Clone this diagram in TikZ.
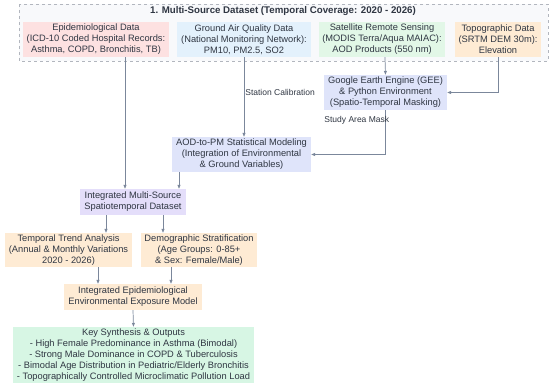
\documentclass[tikz,border=0pt]{standalone}
\usepackage{fontspec}
\setmainfont{Liberation Sans}
\usepackage{tikz}
\usetikzlibrary{positioning, arrows.meta, calc}
\definecolor{ink}{HTML}{2F3642}
\definecolor{edge}{HTML}{7B879B}
\definecolor{frame}{HTML}{B2B6BE}
\definecolor{framelight}{HTML}{F8F9FB}
\definecolor{epilight}{HTML}{FDE1E1}
\definecolor{airlight}{HTML}{E3F1FC}
\definecolor{satlight}{HTML}{E2F7E7}
\definecolor{topolight}{HTML}{FEEBD4}
\definecolor{proclight}{HTML}{DFE4FA}
\definecolor{mergelight}{HTML}{E4DEFA}
\definecolor{outlight}{HTML}{D7F6E4}
\tikzset{
  box/.style      = {rectangle, inner sep=1pt, align=center, text=ink,
                     font=\fontsize{9.3}{11}\selectfont},
  src/.style      = {box, minimum height=35pt},
  proc/.style     = {box, fill=proclight, minimum height=35pt},
  ana/.style      = {box, fill=topolight},
  lbl/.style      = {inner sep=1pt, text=ink, font=\fontsize{8.5}{10}\selectfont},
  ar/.style       = {-{Triangle[length=4pt,width=3pt]}, draw=edge, line width=0.7pt},
}
\begin{document}
\begin{tikzpicture}[x=1pt, y=-1pt]
  \useasboundingbox (0,0) rectangle (550,388);

  % source cluster
  \draw[frame, dashed, fill=framelight] (19,4) rectangle (548,61);
  \node[font=\bfseries\fontsize{9.7}{11}\selectfont, text=ink] (title) at (283,11)
       {1. Multi-Source Dataset (Temporal Coverage: 2020 - 2026)};

  \node[src, fill=epilight,  minimum width=146pt] (epi)    at (96,39.5)
       {Epidemiological Data\\(ICD-10 Coded Hospital Records:\\Asthma, COPD, Bronchitis, TB)};
  \node[src, fill=airlight,  minimum width=134pt] (ground) at (244,39.5)
       {Ground Air Quality Data\\(National Monitoring Network):\\PM10, PM2.5, SO2};
  \node[src, fill=satlight,  minimum width=126pt] (sat)    at (382,39.5)
       {Satellite Remote Sensing\\(MODIS Terra/Aqua MAIAC):\\AOD Products (550 nm)};
  \node[src, fill=topolight, minimum width=86pt]  (topo)   at (498,39.5)
       {Topographic Data\\(SRTM DEM 30m):\\Elevation};

  % processing
  \node[proc, minimum width=123pt] (gee) at (385.5,92.5)
       {Google Earth Engine (GEE)\\\& Python Environment\\(Spatio-Temporal Masking)};
  \node[proc, minimum width=139pt] (aod) at (241.5,154.5)
       {AOD-to-PM Statistical Modeling\\(Integration of Environmental\\\& Ground Variables)};
  \node[box, fill=mergelight, minimum width=106pt, minimum height=26pt] (integ) at (133,202)
       {Integrated Multi-Source\\Spatiotemporal Dataset};

  % analysis
  \node[ana, minimum width=127pt, minimum height=34pt] (trend) at (68.5,250)
       {Temporal Trend Analysis\\(Annual \& Monthly Variations\\2020 - 2026)};
  \node[ana, minimum width=116pt, minimum height=34pt] (demo) at (199,250)
       {Demographic Stratification\\(Age Groups: 0-85+\\\& Sex: Female/Male)};
  \node[ana, minimum width=138pt, minimum height=26pt] (expo) at (133,297)
       {Integrated Epidemiological\\Environmental Exposure Model};
  \node[box, fill=outlight, minimum width=241pt, minimum height=56pt] (out) at (133.5,355)
       {Key Synthesis \& Outputs\\- High Female Predominance in Asthma (Bimodal)\\- Strong Male Dominance in COPD \& Tuberculosis\\- Bimodal Age Distribution in Pediatric/Elderly Bronchitis\\- Topographically Controlled Microclimatic Pollution Load};

  % connectors
  \draw[ar] ([xshift=29pt]epi.south) -- ([xshift=-8pt]integ.north);
  \draw[ar] (ground.south) -- node[pos=0.44, anchor=west, lbl] {Station Calibration}
            ([xshift=2.5pt]aod.north);
  \draw[ar] ([xshift=3pt]sat.south) -- (gee.north);
  \draw[ar] (topo.south) |- (gee.east);
  \draw[ar] (gee.south) |- node[pos=0.11, anchor=east, xshift=5pt, lbl] {Study Area Mask}
            (aod.east);
  \draw[ar] ([xshift=-62.5pt]aod.south) -- ([xshift=46pt]integ.north);
  \draw[ar] ([xshift=-27pt]integ.south) -- ([xshift=37.5pt]trend.north);
  \draw[ar] ([xshift=30pt]integ.south) -- ([xshift=-36pt]demo.north);
  \draw[ar] ([xshift=29.5pt]trend.south) -- ([xshift=-35pt]expo.north);
  \draw[ar] ([xshift=-28pt]demo.south) -- ([xshift=38pt]expo.north);
  \draw[ar] (expo.south) -- (out.north);

\end{tikzpicture}
\end{document}
